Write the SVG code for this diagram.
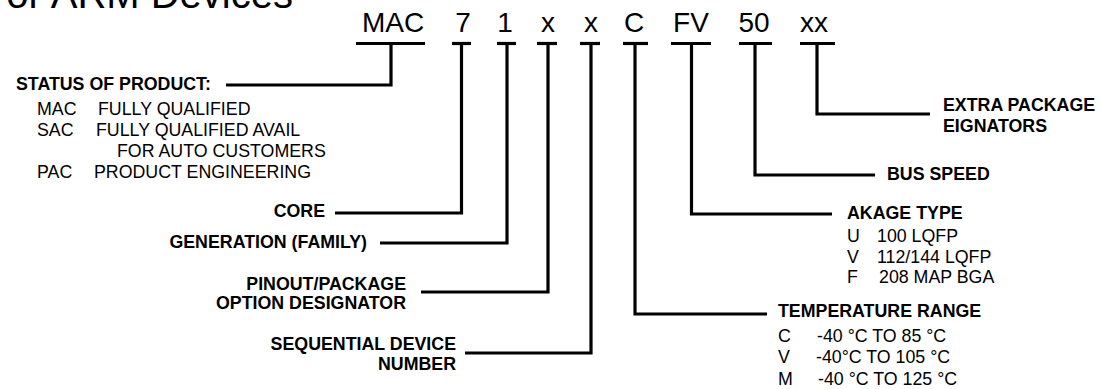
<svg xmlns="http://www.w3.org/2000/svg" width="1101" height="389" viewBox="0 0 1101 389">
<style>
text{font-family:"Liberation Sans",Arial,sans-serif;fill:#000}
.code{font-size:28px;text-anchor:middle}
.b{font-size:17.8px;font-weight:bold}
.r{font-size:17.8px}
.e{text-anchor:end}
.ln{fill:none;stroke:#000;stroke-width:3.2;stroke-linejoin:miter;stroke-linecap:butt}
</style>
<rect width="1101" height="389" fill="#fff"/>
<text x="293" y="8" font-size="40" text-anchor="end" style="font-family:'Liberation Sans',Arial,sans-serif">For ARM Devices</text>
<g id="code">
<text class="code" x="393" y="32">MAC</text>
<text class="code" x="463" y="32">7</text>
<text class="code" x="505" y="32">1</text>
<text class="code" x="548" y="32">x</text>
<text class="code" x="591" y="32">x</text>
<text class="code" x="634" y="32">C</text>
<text class="code" x="691" y="32">FV</text>
<text class="code" x="754" y="32">50</text>
<text class="code" x="814" y="32">xx</text>
</g>
<g id="connectors" class="ln">
<path d="M356 43.5H425"/>
<path d="M452 43.5H471"/>
<path d="M497 43.5H516"/>
<path d="M537 43.5H557"/>
<path d="M580 43.5H600"/>
<path d="M623 43.5H648"/>
<path d="M671 43.5H711"/>
<path d="M739 43.5H772"/>
<path d="M800 43.5H835"/>
<path d="M391 43.5V85H226"/>
<path d="M461.5 43.5V213H335"/>
<path d="M507 43.5V243H380"/>
<path d="M548 43.5V292H421"/>
<path d="M591 43.5V353H465"/>
<path d="M635 43.5V314H767"/>
<path d="M691.5 43.5V214H832"/>
<path d="M755 43.5V175H875"/>
<path d="M817 43.5V114H930"/>
</g>
<g id="status">
<text class="b" x="16" y="90">STATUS OF PRODUCT:</text>
<text class="r" x="37" y="115">MAC</text><text class="r" x="98" y="115">FULLY QUALIFIED</text>
<text class="r" x="37" y="136">SAC</text><text class="r" x="96" y="136">FULLY QUALIFIED AVAIL</text>
<text class="r" x="117" y="157">FOR AUTO CUSTOMERS</text>
<text class="r" x="37" y="178">PAC</text><text class="r" x="94" y="178">PRODUCT ENGINEERING</text>
</g>
<g id="core"><text class="b e" x="325" y="217">CORE</text></g>
<g id="generation"><text class="b e" x="367" y="248">GENERATION (FAMILY)</text></g>
<g id="pinout">
<text class="b e" x="406" y="290">PINOUT/PACKAGE</text>
<text class="b e" x="406" y="309">OPTION DESIGNATOR</text>
</g>
<g id="sequential">
<text class="b e" x="456" y="350">SEQUENTIAL DEVICE</text>
<text class="b e" x="456" y="370">NUMBER</text>
</g>
<g id="temperature">
<text class="b" x="778" y="317">TEMPERATURE RANGE</text>
<text class="r" x="778" y="342">C</text><text class="r" x="817" y="342">-40 °C TO 85 °C</text>
<text class="r" x="778" y="363">V</text><text class="r" x="816" y="363">-40°C TO 105 °C</text>
<text class="r" x="778" y="385">M</text><text class="r" x="818" y="385">-40 °C TO 125 °C</text>
</g>
<g id="package">
<text class="b" x="847" y="219">AKAGE TYPE</text>
<text class="r" x="847" y="242">U</text><text class="r" x="877" y="242">100 LQFP</text>
<text class="r" x="847" y="263">V</text><text class="r" x="877" y="263">112/144 LQFP</text>
<text class="r" x="847" y="283">F</text><text class="r" x="879" y="283">208 MAP BGA</text>
</g>
<g id="busspeed"><text class="b" x="887" y="180">BUS SPEED</text></g>
<g id="extra">
<text class="b" x="943" y="111">EXTRA PACKAGE</text>
<text class="b" x="943" y="132">EIGNATORS</text>
</g>
</svg>
